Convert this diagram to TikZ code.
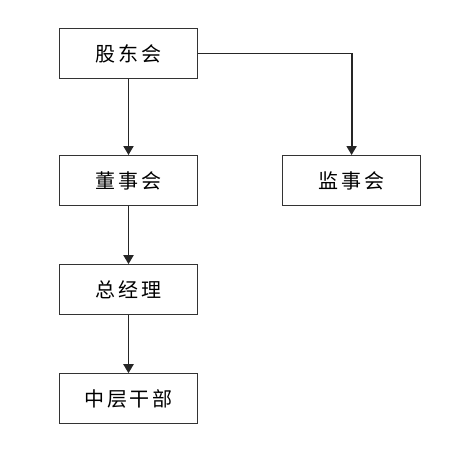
\documentclass[tikz,border=0pt]{standalone}
\usepackage{fontspec}
\newfontfamily\cjk{Noto Sans CJK SC}
\usetikzlibrary{arrows.meta, positioning}

\begin{document}
\begin{tikzpicture}[
  x=1pt, y=-1pt,
  every node/.style={font=\fontsize{20pt}{22pt}\selectfont\cjk},
  orgbox/.style={rectangle, draw=black!80, line width=1.1pt,
                 minimum width=138pt, minimum height=50pt,
                 inner sep=0pt, align=center},
  arr/.style={-{Triangle[length=9pt, width=10pt]}, line width=1.8pt, black!85}
]
  \useasboundingbox (0,0) rectangle (453,449);

  % ── Boxes ─────────────────────────────────────────────────────
  \node[orgbox] (gdh) at (128.5,53.5) {股\hspace{3pt}东\hspace{3pt}会};
  \node[orgbox, below=76pt of gdh]    (dsh) {董\hspace{3pt}事\hspace{3pt}会};
  \node[orgbox, right=84pt of dsh]    (jsh) {监\hspace{3pt}事\hspace{3pt}会};
  \node[orgbox, below=58pt of dsh]    (zjl) {总\hspace{3pt}经\hspace{3pt}理};
  \node[orgbox, below=58pt of zjl]    (zcgb) {中\hspace{2.5pt}层\hspace{2.5pt}干\hspace{2.5pt}部};

  % ── Arrows ────────────────────────────────────────────────────
  \foreach \a/\b in {gdh/dsh, dsh/zjl, zjl/zcgb}
    \draw[arr] (\a) -- (\b);
  \draw[arr] (gdh.east) -| (jsh.north);

\end{tikzpicture}
\end{document}
